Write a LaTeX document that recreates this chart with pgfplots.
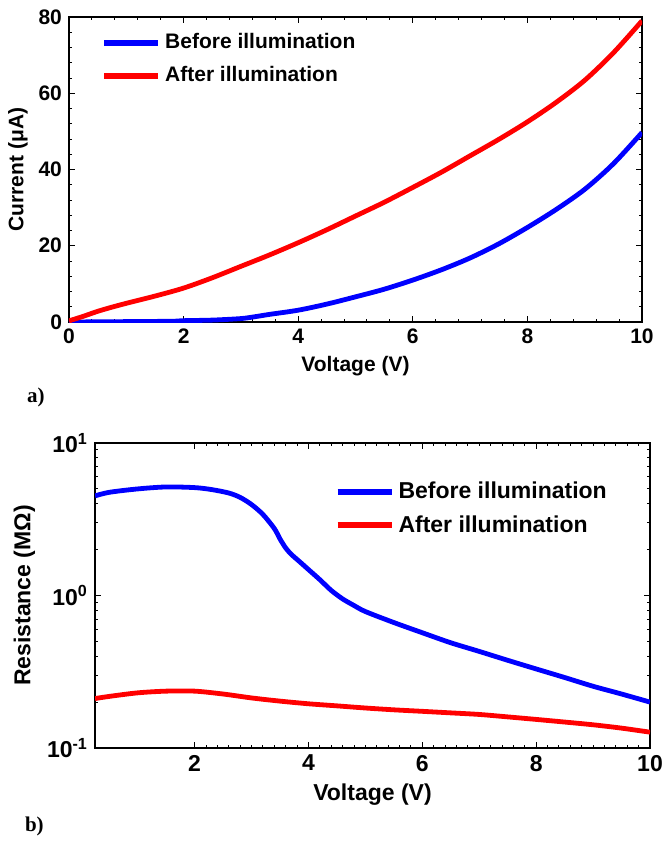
\documentclass[border=0pt]{standalone}
\usepackage{fontspec}
\setmainfont{Liberation Sans}
\newfontfamily\capfont{Liberation Serif}
\usepackage{pgfplots}
\pgfplotsset{compat=1.18}

\pgfplotsset{
  matlab/.style={
    scale only axis,
    axis line style={line width=0.6pt},
    tick align=inside,
    xtick pos=both, ytick pos=both,
    major tick length=3pt, minor tick length=1.6pt,
    every tick/.style={black, line width=0.5pt},
    /pgf/number format/assume math mode=true,
    legend cell align=left,
    legend image code/.code={\draw[##1, line width=3pt] (0pt,0pt) -- (27pt,0pt);},
  },
}

\begin{document}
\begin{tikzpicture}
\path[use as bounding box] (0,0) rectangle (331.5pt,-426pt);

% a) current vs voltage
\begin{axis}[matlab,
    at={(34.5pt,-161pt)}, anchor=south west,
    width=286.5pt, height=152.5pt,
    xmin=0, xmax=10, ymin=0, ymax=80,
    xtick={0,2,...,10}, ytick={0,20,...,80},
    minor x tick num=4, minor y tick num=4,
    tick label style={font=\fontsize{10.5}{12}\selectfont\bfseries},
    label style={font=\fontsize{10.5}{12}\selectfont\bfseries},
    xlabel={Voltage (V)}, ylabel={Current (μA)},
    xlabel style={at={(axis description cs:0.5,-0.144)}, anchor=center},
    ylabel style={at={(axis description cs:-0.089,0.5)}, anchor=center},
    legend style={draw=none, fill=none, at={(rel axis cs:0.045,0.862)}, anchor=west,
        font=\fontsize{10.5}{12}\selectfont\bfseries, row sep=3.5pt,
        /tikz/every even column/.append style={column sep=-1pt}},
]
\addplot[blue, line width=2.4pt, smooth, tension=0.5] coordinates {
 (0,0) (1,0.1) (1.8,0.2) (2,0.35) (2.5,0.5) (3,0.9) (3.25,1.4) (3.5,2.0)
 (4,3.1) (4.5,4.7) (5,6.6) (5.5,8.6) (6,11.0) (6.5,13.7) (7,16.8)
 (7.5,20.5) (8,24.8) (8.5,29.5) (9,34.8) (9.5,41.5) (10,49.7)
};
\addlegendentry{Before illumination}
\addplot[red, line width=2.4pt, smooth, tension=0.5] coordinates {
 (0,0.3) (0.25,1.5) (0.5,2.8) (0.75,3.9) (1,4.9) (1.5,6.8) (2,8.9)
 (2.5,11.6) (3,14.6) (3.5,17.6) (4,20.8) (4.5,24.2) (5,27.8) (5.5,31.4)
 (6,35.3) (6.5,39.3) (7,43.6) (7.5,47.9) (8,52.5) (8.5,57.6) (9,63.4)
 (9.5,70.6) (10,79.0)
};
\addlegendentry{After illumination}
\end{axis}

% b) resistance vs voltage
\begin{axis}[matlab,
    at={(47.5pt,-374pt)}, anchor=south west,
    width=277.5pt, height=152.5pt,
    xmin=0.25, xmax=10, ymin=0.1, ymax=10, ymode=log,
    xtick={2,4,...,10}, minor x tick num=9,
    ytick={0.1,1,10},
    yticklabels={10\textsuperscript{-1},10\textsuperscript{0},10\textsuperscript{1}},
    tick label style={font=\fontsize{11.5}{13}\selectfont\bfseries},
    label style={font=\fontsize{11.5}{13}\selectfont\bfseries},
    xlabel={Voltage (V)}, ylabel={Resistance (MΩ)},
    xlabel style={at={(axis description cs:0.5,-0.154)}, anchor=center},
    ylabel style={at={(axis description cs:-0.127,0.5)}, anchor=center},
    legend style={draw=none, fill=none, at={(rel axis cs:0.42,0.785)}, anchor=west,
        font=\fontsize{11.5}{13}\selectfont\bfseries, row sep=3pt},
]
\addplot[blue, line width=2.4pt, smooth, tension=0.5] coordinates {
 (0.25,4.5) (0.5,4.75) (1.0,5.0) (1.5,5.15) (2.0,5.1) (2.3,4.95) (2.6,4.7)
 (2.8,4.4) (3.0,3.95) (3.2,3.4) (3.4,2.75) (3.5,2.35) (3.6,2.05) (3.7,1.86)
 (3.85,1.66) (4.0,1.48) (4.2,1.27) (4.4,1.08) (4.6,0.95) (4.8,0.86)
 (5.0,0.785) (5.5,0.665) (6.0,0.57) (6.5,0.49) (7.0,0.43) (7.5,0.376)
 (8.0,0.33) (8.5,0.29) (9.0,0.254) (9.5,0.226) (10,0.2)
};
\addlegendentry{Before illumination}
\addplot[red, line width=2.4pt, smooth, tension=0.5] coordinates {
 (0.25,0.211) (0.5,0.218) (1.0,0.23) (1.5,0.236) (2.0,0.236) (2.5,0.226)
 (3.0,0.213) (3.5,0.203) (4.0,0.195) (4.5,0.189) (5.0,0.183) (5.5,0.178)
 (6.0,0.174) (6.5,0.170) (7.0,0.166) (7.5,0.160) (8.0,0.154) (8.5,0.148)
 (9.0,0.142) (9.5,0.135) (10,0.127)
};
\addlegendentry{After illumination}
\end{axis}

\node[anchor=west, font=\capfont\bfseries\fontsize{10.5}{12}\selectfont] at (10pt,-198.5pt) {a)};
\node[anchor=west, font=\capfont\bfseries\fontsize{10.5}{12}\selectfont] at (9pt,-413pt) {b)};
\end{tikzpicture}
\end{document}
